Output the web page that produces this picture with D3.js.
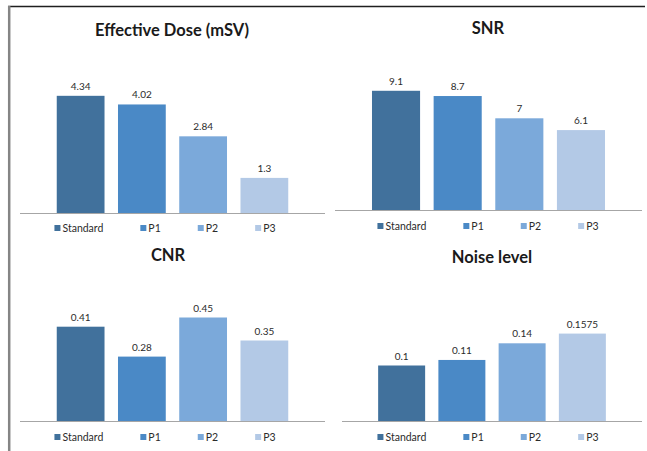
<!DOCTYPE html>
<html>
<head>
    <title>Effective Dose, SNR, CNR and Noise level</title>
    <script src="https://d3js.org/d3.v7.min.js"></script>
    <style>
        body { margin: 0; background: #fff; }
        svg { font-family: Lato, "Open Sans", sans-serif; }
        .title { font-size: 16.5px; font-weight: bold; fill: #1a1a1a; }
        .value { font-size: 10px; fill: #2b2b2b; }
        .legend text { font-size: 10.5px; fill: #2b2b2b; }
        .baseline { stroke: #a6a6a6; stroke-width: 1.2; }
    </style>
</head>
<body>
    <svg width="647" height="451"></svg>
    <script>
        var series = ["Standard", "P1", "P2", "P3"];
        var colors = ["#41719c", "#4a89c6", "#7ba9da", "#b3c9e6"];

        var doseValues = [4.34, 4.02, 2.84, 1.3];
        var snrValues = [9.1, 8.7, 7, 6.1];
        var cnrValues = [0.41, 0.28, 0.45, 0.35];
        var noiseValues = [0.1, 0.11, 0.14, 0.1575];

        var titles = ["Effective Dose (mSV)", "SNR", "CNR", "Noise level"];
        var yMax = [5, 10, 0.5, 0.2];

        var svg = d3.select("svg");
        var color = d3.scaleOrdinal().domain(series).range(colors);

        // page frame
        svg.append("line").attr("x1", 8).attr("x2", 645).attr("y1", 6.5).attr("y2", 6.5)
            .attr("stroke", "#1f1f1f").attr("stroke-width", 1.3);
        svg.append("line").attr("x1", 9.2).attr("x2", 9.2).attr("y1", 6).attr("y2", 451)
            .attr("stroke", "#858585").attr("stroke-width", 2.5);

        // layout of each small chart
        var panels = [
            {values: doseValues, left: 20, right: 325, base: 213, top: 78, titleX: 172, titleY: 36, legendX: 165, legendY: 228},
            {values: snrValues, left: 335, right: 642, base: 210, top: 79, titleX: 488, titleY: 34, legendX: 488, legendY: 226},
            {values: cnrValues, left: 20, right: 325, base: 421, top: 306, titleX: 168, titleY: 261, legendX: 165, legendY: 437},
            {values: noiseValues, left: 342, right: 642, base: 421, top: 310, titleX: 492, titleY: 263, legendX: 488, legendY: 437}
        ];

        panels.forEach(function(p, i) {
            var g = svg.append("g");
            var data = series.map(function(s, k) { return {name: s, value: p.values[k]}; });

            var x = d3.scaleBand().domain(series).range([p.left, p.right])
                .paddingInner(0.22).paddingOuter(0.6);
            var y = d3.scaleLinear().domain([0, yMax[i]]).range([p.base, p.top]);

            g.append("text")
                .attr("class", "title")
                .attr("x", p.titleX)
                .attr("y", p.titleY)
                .attr("text-anchor", "middle")
                .text(titles[i]);

            g.selectAll("rect.bar")
                .data(data)
                .enter().append("rect")
                .attr("class", "bar")
                .attr("x", d => x(d.name))
                .attr("y", d => y(d.value))
                .attr("width", x.bandwidth())
                .attr("height", d => p.base - y(d.value))
                .attr("fill", d => color(d.name));

            g.selectAll("text.value")
                .data(data)
                .enter().append("text")
                .attr("class", "value")
                .attr("x", d => x(d.name) + x.bandwidth() / 2)
                .attr("y", d => y(d.value) - 6)
                .attr("text-anchor", "middle")
                .text(d => String(d.value));

            g.append("line")
                .attr("class", "baseline")
                .attr("x1", p.left).attr("x2", p.right)
                .attr("y1", p.base + 0.5).attr("y2", p.base + 0.5);

            // legend: square + label, laid out left to right then centred
            var legend = g.append("g").attr("class", "legend");
            var cursor = 0;
            series.forEach(function(s) {
                var item = legend.append("g").attr("transform", "translate(" + cursor + ",0)");
                item.append("rect").attr("x", 0).attr("y", -3).attr("width", 6).attr("height", 6)
                    .attr("fill", color(s));
                var t = item.append("text").attr("x", 8).attr("dy", "0.35em").text(s);
                cursor += 8 + t.node().getComputedTextLength() + 37;
            });
            var total = cursor - 37;
            legend.attr("transform", "translate(" + (p.legendX - total / 2) + "," + p.legendY + ")");
        });
    </script>
</body>
</html>
